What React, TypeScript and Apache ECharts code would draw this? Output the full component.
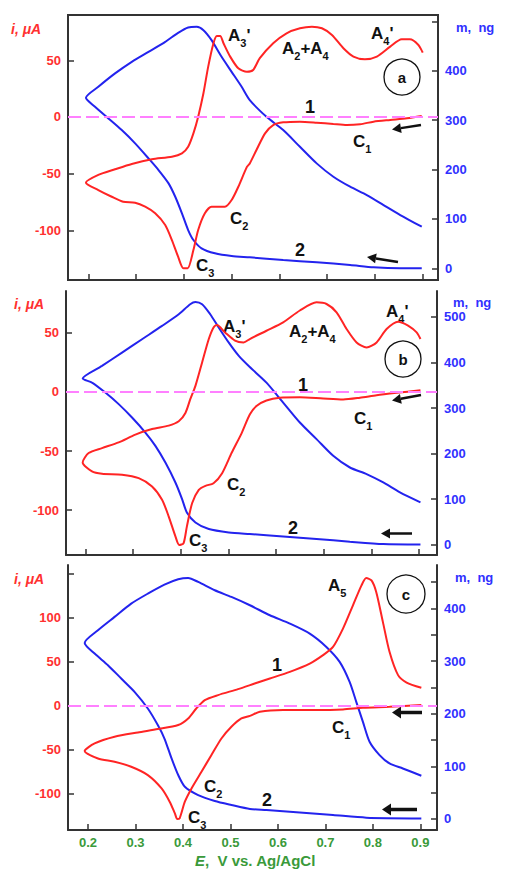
import React, { useEffect, useRef } from "react";
import * as echarts from "echarts";

const FONT = "'Liberation Sans', Arial, Helvetica, sans-serif";
const RED = "#ff2424";
const BLUE = "#2323ee";
const PINK = "#ff80ff";
const RED_TXT = "#ff3030";
const BLUE_TXT = "#3030ff";
const GREEN = "#3a9a3a";
const AXIS = "#333333";

// ---------- tick values ----------
const xTicks = [0.2, 0.3, 0.4, 0.5, 0.6, 0.7, 0.8, 0.9];
const currentTicksAB = [-100, -50, 0, 50];
const currentTicksC = [-100, -50, 0, 50, 100, 150];
const currentLabelsC = [-100, -50, 0, 50, 100];
const massTicksAB = [0, 100, 200, 300, 400, 500];
const massLabelsA = [0, 100, 200, 300, 400];
const massLabelsB = [0, 100, 200, 300, 400, 500];
const massTicksC = [0, 50, 100, 150, 200, 250, 300, 350, 400, 450];
const massLabelsC = [0, 100, 200, 300, 400];

// ---------- panel a: current (µA) vs E (V) ----------
const currentA: number[][] = [
  [0.898, 0.9], [0.867, -1.2], [0.832, -2.6], [0.797, -4.1], [0.769, -6.4], [0.741, -7.1],
  [0.713, -6.2], [0.678, -5.0], [0.643, -4.1], [0.608, -4.7], [0.587, -7.1], [0.57, -14.4],
  [0.552, -29.1], [0.538, -41], [0.532, -44], [0.514, -61.5], [0.5, -73.2], [0.486, -79.1],
  [0.458, -79.1], [0.444, -84.9], [0.43, -99.6], [0.42, -117.3], [0.408, -133.4], [0.399, -133.4],
  [0.388, -123.2], [0.375, -108.5], [0.361, -95.2], [0.34, -84.9], [0.319, -79.1], [0.298, -75.6],
  [0.273, -74.7], [0.249, -70.3], [0.221, -64.4], [0.195, -57.9],
  [0.221, -51.1], [0.256, -46.1], [0.291, -41.4], [0.333, -37.3], [0.375, -35], [0.396, -32],
  [0.409, -26.2], [0.42, -14.4], [0.43, 0.3], [0.441, 20.9], [0.451, 44.4], [0.462, 65],
  [0.469, 71.4], [0.476, 71.4], [0.483, 65], [0.497, 53.2], [0.514, 42.9], [0.532, 39.9],
  [0.545, 41.4], [0.559, 51.8], [0.587, 65], [0.615, 73.8], [0.643, 78.2], [0.668, 79.6],
  [0.689, 78.2], [0.71, 72.3], [0.734, 60.6], [0.755, 53.2], [0.779, 50.9], [0.804, 53.2],
  [0.832, 62], [0.856, 68.5], [0.873, 68.5], [0.891, 63.5], [0.9, 56.7],
];
// ---------- panel a: mass (ng) vs E (V) ----------
const massA: number[][] = [
  [0.898, 0], [0.853, 0], [0.797, 2], [0.748, 6.7], [0.678, 12.1], [0.608, 16.8], [0.538, 22.3],
  [0.5, 24.9], [0.465, 30.4], [0.437, 40.5], [0.42, 57.3], [0.409, 77.5], [0.396, 111.3],
  [0.382, 144.9], [0.368, 172], [0.347, 199], [0.326, 222.6], [0.298, 253], [0.27, 279.9],
  [0.242, 303.6], [0.214, 327.1], [0.195, 345.3],
  [0.221, 367.6], [0.256, 394.7], [0.291, 418.2], [0.326, 438.4], [0.361, 458.6], [0.388, 476.9],
  [0.409, 487.8], [0.427, 489], [0.441, 482.3], [0.458, 462.1], [0.479, 428.3], [0.5, 397.9],
  [0.521, 367.6], [0.538, 340.6], [0.573, 306.8], [0.608, 279.9], [0.643, 246.1], [0.678, 212.5],
  [0.713, 185.4], [0.748, 165.2], [0.783, 148.4], [0.818, 128.1], [0.853, 107.9], [0.898, 84.2],
];

// ---------- panel b ----------
const currentB: number[][] = [
  [0.903, 1.4], [0.853, -0.8], [0.811, -2.8], [0.776, -4.9], [0.741, -6.4], [0.699, -5.6],
  [0.65, -4.5], [0.608, -4.9], [0.58, -7.3], [0.559, -11.9], [0.545, -19.2], [0.528, -34.8],
  [0.507, -51.5], [0.487, -68.7], [0.469, -77.2], [0.452, -79.4], [0.438, -82.8], [0.424, -94.1],
  [0.413, -113.9], [0.406, -128], [0.397, -129.4], [0.389, -122.1], [0.375, -105.4], [0.361, -91.2],
  [0.34, -79.9], [0.312, -72.9], [0.277, -70], [0.235, -69.2], [0.214, -67.2], [0.1945, -59.6],
  [0.207, -51.7], [0.235, -47.5], [0.27, -42.7], [0.305, -36.1], [0.34, -31.4], [0.375, -28.5],
  [0.396, -24.8], [0.41, -17.8], [0.42, -6.4], [0.431, 5.1], [0.445, 24.9], [0.459, 44.7],
  [0.469, 54.5], [0.476, 56.5], [0.493, 50.3], [0.514, 43.3], [0.532, 41.8], [0.545, 44.7],
  [0.58, 51.7], [0.615, 58.8], [0.65, 68.8], [0.685, 75.7], [0.706, 74.3], [0.727, 67.3],
  [0.748, 53.2], [0.769, 41.8], [0.79, 37.6], [0.811, 41.8], [0.832, 53.2], [0.856, 59.4],
  [0.877, 56.1], [0.895, 50.3], [0.903, 44.7],
];
const massB: number[][] = [
  [0.903, 0.5], [0.825, 1.5], [0.755, 6.6], [0.685, 12.5], [0.615, 18.2], [0.545, 23.5],
  [0.501, 27], [0.459, 34.4], [0.431, 48.9], [0.413, 70.8], [0.403, 100.2], [0.389, 136.6],
  [0.368, 180.5], [0.347, 217.1], [0.326, 246.3], [0.298, 279.2], [0.27, 308.6], [0.242, 334],
  [0.214, 356], [0.1945, 364.7],
  [0.235, 392.5], [0.277, 421.7], [0.319, 451.1], [0.361, 480.3], [0.396, 505.9], [0.42, 527.9],
  [0.431, 532.9], [0.445, 527.9], [0.462, 505.9], [0.48, 476.5], [0.501, 443.6], [0.522, 414.5],
  [0.545, 390], [0.58, 355.9], [0.615, 312], [0.65, 268.2], [0.685, 231.8], [0.72, 195.2],
  [0.755, 169.5], [0.79, 155], [0.825, 136.6], [0.86, 114.7], [0.903, 92.8],
];

// ---------- panel c ----------
const currentC: number[][] = [
  [0.902, 0.8], [0.835, -1.1], [0.779, -2.3], [0.737, -4.2], [0.681, -4.9], [0.611, -4.9],
  [0.562, -6.8], [0.541, -11.4], [0.523, -14.4], [0.502, -23.9], [0.481, -37.2], [0.46, -56],
  [0.439, -75], [0.418, -94], [0.404, -109.1], [0.393, -128], [0.388, -128.8], [0.383, -122.4],
  [0.372, -109.1], [0.355, -94], [0.326, -78.8], [0.291, -69.3], [0.256, -63.6], [0.221, -59.9],
  [0.193, -51.5],
  [0.214, -42.8], [0.256, -35.2], [0.305, -30.3], [0.347, -26.5], [0.39, -21.9], [0.411, -14.4],
  [0.428, -3.1], [0.446, 6.5], [0.474, 12.2], [0.516, 19], [0.551, 25.3], [0.583, 31],
  [0.625, 38.6], [0.667, 48], [0.695, 57.6], [0.716, 67], [0.737, 87.8], [0.758, 114.3],
  [0.776, 137], [0.786, 145.3], [0.797, 142.7], [0.807, 129.5], [0.821, 95.5], [0.835, 61.4],
  [0.853, 34.9], [0.871, 26.5], [0.902, 20.5],
];
const massC: number[][] = [
  [0.902, 1.1], [0.786, 2.5], [0.716, 7.6], [0.646, 12.5], [0.576, 17.1], [0.541, 19],
  [0.502, 26.6], [0.467, 34.2], [0.432, 45.5], [0.404, 61.3], [0.39, 83.5], [0.376, 115],
  [0.361, 152.9], [0.347, 178.4], [0.326, 209.9], [0.298, 241.6], [0.27, 266.8], [0.242, 292.2],
  [0.214, 314.2], [0.193, 334.5],
  [0.221, 358.6], [0.256, 383.9], [0.291, 409.1], [0.326, 428.1], [0.361, 445.2], [0.39, 455.4],
  [0.411, 457.9], [0.432, 450.3], [0.467, 434.5], [0.502, 421.8], [0.541, 406], [0.583, 387.1],
  [0.625, 371.2], [0.667, 352.2], [0.702, 326.9], [0.73, 298.5], [0.751, 260.5], [0.765, 222.6],
  [0.779, 184.6], [0.793, 146.7], [0.814, 121.4], [0.835, 105.5], [0.863, 96], [0.902, 82.2],
];

// ---------- layout ----------
const grids = [
  { left: 68, top: 15, width: 370, height: 265, show: true, borderColor: AXIS, borderWidth: 2 },
  { left: 66, top: 291, width: 371, height: 264 },
  { left: 68, top: 565, width: 369, height: 265 },
];
const xRanges = [[0.1575, 0.932], [0.1595, 0.9377], [0.1579, 0.935]];
const leftRanges = [[-143.7, 89.9], [-137.9, 85.3], [-141.3, 160.2]];
const rightRanges = [[-23.7, 513], [-22.6, 557], [-20.9, 482.5]];

const tickFont = { fontFamily: FONT, fontWeight: "bold" as const, fontSize: 13 };

function arrow(x1: number, y1: number, x2: number, y2: number, w: number) {
  const dx = x2 - x1, dy = y2 - y1, L = Math.hypot(dx, dy);
  const ux = dx / L, uy = dy / L;
  const hl = 9, hw = w + 2.5;
  const bx = x2 - ux * hl, by = y2 - uy * hl;
  return {
    type: "group",
    children: [
      { type: "line", shape: { x1, y1, x2: bx, y2: by }, style: { stroke: "#111", lineWidth: w } },
      {
        type: "polygon",
        shape: { points: [[x2, y2], [bx - uy * hw, by + ux * hw], [bx + uy * hw, by - ux * hw]] },
        style: { fill: "#111" },
      },
    ],
  };
}

const richLbl = {
  m: { fontFamily: FONT, fontWeight: "bold", fontSize: 17, fill: "#111", lineHeight: 20 },
  s: { fontFamily: FONT, fontWeight: "bold", fontSize: 11, fill: "#111", lineHeight: 26, verticalAlign: "bottom" },
};

function lbl(x: number, y: number, text: string) {
  return {
    type: "text",
    x,
    y,
    style: { text, rich: richLbl, textVerticalAlign: "top", textAlign: "left" },
  };
}
function num(x: number, y: number, t: string) {
  return {
    type: "text",
    x,
    y,
    style: { text: t, font: `bold 18px ${FONT}`, fill: "#111", textVerticalAlign: "top" },
  };
}
function circ(cx: number, cy: number, r: number, t: string) {
  return [
    { type: "circle", shape: { cx, cy, r }, style: { fill: "none", stroke: "#111", lineWidth: 1.3 } },
    {
      type: "text",
      x: cx,
      y: cy,
      style: { text: t, font: `bold 15px ${FONT}`, fill: "#111", textAlign: "center", textVerticalAlign: "middle" },
    },
  ];
}
function iName(x: number, y: number) {
  return {
    type: "text",
    x,
    y,
    style: { text: "i, μA", font: `italic bold 14px ${FONT}`, fill: RED_TXT, textVerticalAlign: "top" },
  };
}
function mName(x: number, y: number) {
  return {
    type: "text",
    x,
    y,
    style: { text: "m,  ng", font: `bold 13px ${FONT}`, fill: BLUE_TXT, textVerticalAlign: "top" },
  };
}

export default function App() {
  const ref = useRef<HTMLDivElement>(null);
  useEffect(() => {
    document.body.style.margin = "0";
    if (!ref.current) return;
    const chart = echarts.init(ref.current, null, { renderer: "svg" });

    const currents = [currentA, currentB, currentC];
    const masses = [massA, massB, massC];
    const leftTicks = [currentTicksAB, currentTicksAB, currentTicksC];
    const leftLabels = [currentTicksAB, currentTicksAB, currentLabelsC];
    const rightTicks = [massTicksAB, massTicksAB, massTicksC];
    const rightLabels = [massLabelsA, massLabelsB, massLabelsC];

    const xAxis = [0, 1, 2].map((k) => ({
      type: "value",
      gridIndex: k,
      min: xRanges[k][0],
      max: xRanges[k][1],
      axisLine: { show: true, onZero: false, lineStyle: { color: AXIS, width: 2 } },
      axisTick: { show: true, inside: true, length: 6, customValues: xTicks, lineStyle: { color: AXIS, width: 1.5 } },
      axisLabel: {
        show: k === 2,
        customValues: xTicks,
        color: GREEN,
        margin: 6,
        formatter: (v: number) => v.toFixed(1),
        ...tickFont,
      },
      splitLine: { show: false },
    }));

    const yAxis: any[] = [];
    [0, 1, 2].forEach((k) => {
      yAxis.push({
        type: "value",
        gridIndex: k,
        position: "left",
        min: leftRanges[k][0],
        max: leftRanges[k][1],
        axisLine: { show: true, onZero: false, lineStyle: { color: AXIS, width: 2 } },
        axisTick: { show: true, inside: true, length: 6, customValues: leftTicks[k], lineStyle: { color: AXIS, width: 1.5 } },
        axisLabel: { customValues: leftLabels[k], color: RED_TXT, margin: 7, ...tickFont },
        splitLine: { show: false },
      });
      yAxis.push({
        type: "value",
        gridIndex: k,
        position: "right",
        min: rightRanges[k][0],
        max: rightRanges[k][1],
        axisLine: { show: true, onZero: false, lineStyle: { color: AXIS, width: 2 } },
        axisTick: { show: true, inside: true, length: 6, customValues: rightTicks[k], lineStyle: { color: AXIS, width: 1.5 } },
        axisLabel: { customValues: rightLabels[k], color: BLUE_TXT, margin: 7, ...tickFont },
        splitLine: { show: false },
      });
    });

    const series: any[] = [];
    [0, 1, 2].forEach((k) => {
      series.push({
        type: "line",
        name: "m" + k,
        xAxisIndex: k,
        yAxisIndex: 2 * k + 1,
        data: masses[k],
        showSymbol: false,
        smooth: 0.25,
        lineStyle: { color: BLUE, width: 2 },
        z: 3,
      });
      series.push({
        type: "line",
        name: "i" + k,
        xAxisIndex: k,
        yAxisIndex: 2 * k,
        data: currents[k],
        showSymbol: false,
        smooth: 0.25,
        lineStyle: { color: RED, width: 2 },
        z: 4,
        markLine: {
          silent: true,
          symbol: ["none", "none"],
          label: { show: false },
          lineStyle: { color: PINK, type: [13, 5], width: 2 },
          data: [{ yAxis: 0 }],
        },
      });
    });

    const graphic: any[] = [
      // panel a
      iName(11, 22), mName(456, 21),
      lbl(228, 22, "{m|A}{s|3}{m|'}"),
      lbl(282, 35, "{m|A}{s|2}{m|+A}{s|4}"),
      lbl(371, 20, "{m|A}{s|4}{m|'}"),
      lbl(353, 128, "{m|C}{s|1}"),
      lbl(230, 205, "{m|C}{s|2}"),
      lbl(196, 252, "{m|C}{s|3}"),
      num(305, 98, "1"), num(295, 241, "2"),
      ...circ(402, 77, 18, "a"),
      arrow(421, 125, 392, 129.5, 2.5),
      arrow(398, 262, 367, 257, 2.5),
      // panel b
      iName(14, 297), mName(453, 296),
      lbl(223, 313, "{m|A}{s|3}{m|'}"),
      lbl(289, 318, "{m|A}{s|2}{m|+A}{s|4}"),
      lbl(386, 298, "{m|A}{s|4}{m|'}"),
      lbl(354, 405, "{m|C}{s|1}"),
      lbl(227, 471, "{m|C}{s|2}"),
      lbl(189, 527, "{m|C}{s|3}"),
      num(298, 376, "1"), num(288, 519, "2"),
      ...circ(403, 359, 18, "b"),
      arrow(421, 395, 392, 400.5, 2.5),
      arrow(412, 533.5, 381, 533.5, 2.5),
      // panel c
      iName(14, 572), mName(455, 571),
      lbl(328, 572, "{m|A}{s|5}"),
      lbl(332, 714, "{m|C}{s|1}"),
      lbl(204, 773, "{m|C}{s|2}"),
      lbl(188, 804, "{m|C}{s|3}"),
      num(272, 656, "1"), num(262, 791, "2"),
      ...circ(406, 594, 19, "c"),
      arrow(422, 712.5, 392, 712.5, 3.5),
      arrow(417, 809.5, 382, 809.5, 3.5),
      // x-axis title
      {
        type: "text",
        x: 195,
        y: 853,
        style: {
          text: "{e|E}{n|,  V vs. Ag/AgCl}",
          rich: {
            e: { fontFamily: FONT, fontWeight: "bold", fontStyle: "italic", fontSize: 15, fill: GREEN },
            n: { fontFamily: FONT, fontWeight: "bold", fontSize: 15, fill: GREEN },
          },
          textVerticalAlign: "top",
        },
      },
    ];

    chart.setOption({
      animation: false,
      backgroundColor: "#ffffff",
      grid: grids,
      xAxis,
      yAxis,
      series,
      graphic,
    });
    return () => chart.dispose();
  }, []);
  return <div ref={ref} style={{ width: 505, height: 872 }} />;
}
